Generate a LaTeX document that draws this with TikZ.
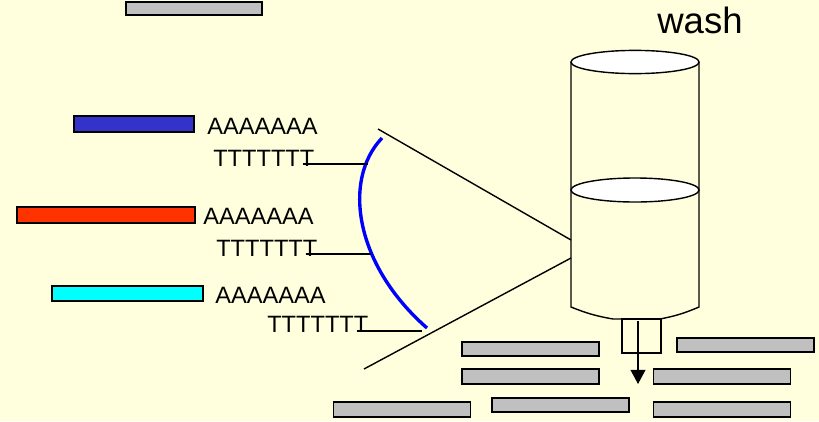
\documentclass[tikz,border=0pt]{standalone}
\usepackage{fontspec}
\setmainfont{Liberation Sans}
\usetikzlibrary{arrows.meta, positioning, calc}
\definecolor{bgyellow}{HTML}{FFFFDD}
\definecolor{barblue}{HTML}{3333CC}
\definecolor{barred}{HTML}{FF3300}
\definecolor{barcyan}{HTML}{00FFFF}
\definecolor{bargray}{HTML}{C0C0C0}
\definecolor{beadblue}{HTML}{0000FF}

\begin{document}
\begin{tikzpicture}[
        x=0.025cm, y=-0.025cm,
        bar/.style={draw, line width=1.2pt, inner sep=0pt, minimum height=0.36cm},
        graybar/.style={bar, fill=bargray, minimum width=3.43cm},
        seq/.style={anchor=base west, inner sep=0pt, font=\fontsize{16.8}{20}\selectfont},
        link/.style={line width=1pt},
        bead/.style={draw=beadblue, line width=2.4pt}
    ]
        % Background
        \useasboundingbox (0,0) rectangle (819,421);
        \fill[bgyellow] (0,0) rectangle (819,421);

        % Bars
        \node[graybar, minimum width=3.4cm, minimum height=0.325cm] (topbar) at (194,8.5) {};
        \node[bar, fill=barblue, minimum width=3cm, minimum height=0.4cm] (bluebar) at (134,124) {};
        \node[bar, fill=barred, minimum width=4.45cm, minimum height=0.4cm] (redbar) at (106,215) {};
        \node[bar, fill=barcyan, minimum width=3.775cm, minimum height=0.375cm] (cyanbar) at (127.5,293.5) {};

        % Tails
        \node[seq] (polyA1) at (207,134) {AAAAAAA};
        \node[seq] (polyT1) at (213,166) {TTTTTTT};
        \node[seq] (polyA2) at (203,224) {AAAAAAA};
        \node[seq] (polyT2) at (216,256) {TTTTTTT};
        \node[seq] (polyA3) at (215,303) {AAAAAAA};
        \node[seq] (polyT3) at (267,332) {TTTTTTT};

        % Bead
        \coordinate (arctop) at (382,138);
        \coordinate (arcbot) at (427,328);
        \draw[bead] (arctop) .. controls (342,180) and (355,265) .. (arcbot);
        \coordinate (tie1) at (368,164);
        \coordinate (tie2) at (371,254);
        \coordinate (tie3) at (422,331);
        \draw[link] ($(polyT1.base east)+(-12,-2)$) -- (tie1);
        \draw[link] ($(polyT2.base east)+(-12,-2)$) -- (tie2);
        \draw[link] ($(polyT3.base east)+(-12,-1)$) -- (tie3);

        % Column
        \draw[link] (571,62) -- (571,307) to[bend right=6] (613,319) -- (660,319) to[bend right=6] (699,307) -- (699,62);
        \coordinate (cyltop) at (635,62);
        \coordinate (cylmid) at (635,190);
        \draw[link, fill=white] (cyltop) ellipse [x radius=1.6cm, y radius=0.29cm];
        \draw[link, fill=white] (cylmid) ellipse [x radius=1.6cm, y radius=0.3cm];
        \node[draw, link, inner sep=0pt, minimum width=0.975cm, minimum height=0.85cm] (nozzle) at (641.5,336) {};
        \coordinate (drip) at (638,384);
        \draw[link, -{Triangle[width=10.5pt, length=10pt]}] ($(nozzle.north)+(-3.5,3)$) -- (drip);
        \node[anchor=base west, inner sep=0pt, font=\fontsize{26}{31}\selectfont] (wash) at (657,33) {wash};

        % Zoom lines
        \coordinate (fanA) at (378,129);
        \coordinate (fanB) at (364,369);
        \coordinate (wallA) at (571,240);
        \coordinate (wallB) at (571,258);
        \draw[link] (fanA) -- (wallA);
        \draw[link] (fanB) -- (wallB);

        % Eluted fragments
        \node[graybar] (frag1) at (530.5,349) {};
        \node[graybar] (frag2) at (745.5,345) {};
        \node[graybar] (frag3) at (530.5,376.5) {};
        \node[graybar] (frag4) at (722,376.5) {};
        \node[graybar] (frag5) at (402,409.5) {};
        \node[graybar] (frag6) at (560.5,405) {};
        \node[graybar] (frag7) at (722,409.5) {};
    \end{tikzpicture}
\end{document}
